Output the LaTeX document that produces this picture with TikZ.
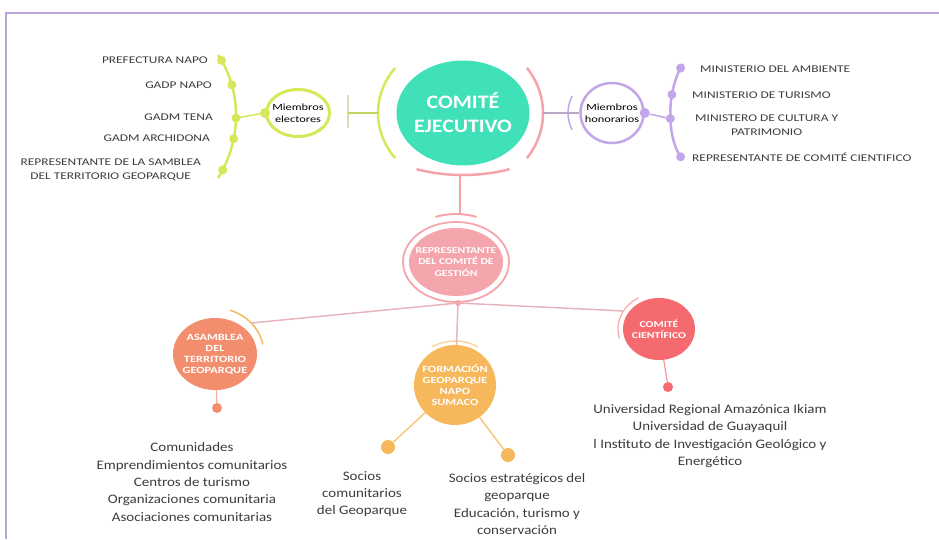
\documentclass[tikz,border=0pt]{standalone}
\usepackage{fontspec}
\setmainfont{Carlito}[FakeStretch=1.15]
\newfontfamily\widefont{Carlito}[FakeStretch=1.3]
\usetikzlibrary{shapes.geometric}
\definecolor{teal1}{HTML}{40E0B8}
\definecolor{lime}{HTML}{D6E85A}
\definecolor{tickc}{HTML}{D9DDB0}
\definecolor{pinkarc}{HTML}{F4A3AB}
\definecolor{purp}{HTML}{C3A6EA}
\definecolor{purpline}{HTML}{B9A9C9}
\definecolor{reppink}{HTML}{F5A5AC}
\definecolor{orng}{HTML}{F28D6E}
\definecolor{gold}{HTML}{F6B85A}
\definecolor{redc}{HTML}{F46A6E}
\definecolor{framec}{HTML}{B9A3D9}
\definecolor{txt}{HTML}{3C3C3C}
\definecolor{lnk}{HTML}{E8B4BC}
\begin{document}
\begin{tikzpicture}[x=1pt,y=-1pt,
  lbl/.style={font=\widefont\fontsize{10.3}{13.5}\selectfont, text=txt, inner sep=0pt, align=center},
  body/.style={font=\fontsize{13}{17.3}\selectfont, text=txt, align=center, inner sep=0pt},
  bubble/.style={ellipse, inner sep=0pt},
  intext/.style={text=white, font=\widefont\bfseries\fontsize{9.5}{11}\selectfont, align=center, inner sep=0pt},
  memb/.style={font=\widefont\fontsize{9.5}{12}\selectfont, align=center, inner sep=0pt},
  dotc/.style={circle, inner sep=0pt, minimum size=#1},
  dotc/.default=9pt
]
\useasboundingbox (0,0) rectangle (939,539);
% frame
\draw[framec, line width=1.2pt] (6,539) -- (6,13) -- (939,13);

% central node
\node[bubble, fill=teal1, minimum width=133pt, minimum height=105pt] (ce) at (463,113) {};
\node[text=white, font=\bfseries\fontsize{19}{24}\selectfont, align=center] (cetxt) at (ce) {COMITÉ\\EJECUTIVO};
\draw[lime, line width=2.5pt] (ce.center) ++(143:85pt and 75pt) arc[start angle=143, end angle=217, x radius=85pt, y radius=75pt];
\draw[pinkarc, line width=2.5pt] (ce.center) ++(-37:80pt and 75pt) arc[start angle=-37, end angle=37, x radius=80pt, y radius=75pt];
\draw[pinkarc, line width=2.5pt] (ce.center) ++(245:110pt and 62pt) arc[start angle=245, end angle=295, x radius=110pt, y radius=62pt];
\coordinate (cl) at (378,113);
\coordinate (cr) at (543,113);
\coordinate (cb) at (460,175);

% Miembros electores
\node[bubble, draw=lime, line width=3pt, fill=white, minimum width=63pt, minimum height=47pt] (elec) at (298,113) {};
\node[memb] (electxt) at (elec) {Miembros\\electores};
\node[dotc=10pt, fill=lime] (delec) at (elec.west) {};
\coordinate (tk) at (348,113);
\draw[tickc, line width=1.2pt] (348,95) -- (348,128);
\draw[lime!80!gray, line width=1.2pt] (tk) -- (cl);

% left bracket
\draw[lime, line width=2.5pt] (218,55) .. controls (242,90) and (242,140) .. (218,178)
  node[pos=0.05, dotc, fill=lime] (l1) {}
  node[pos=0.26, dotc, fill=lime] (l2) {}
  node[pos=0.52, coordinate] (lb) {}
  node[pos=0.52, dotc, fill=lime] (l3) {}
  node[pos=0.68, dotc, fill=lime] (l4) {}
  node[pos=0.93, dotc, fill=lime] (l5) {};
\draw[lime, line width=1.5pt] (lb) -- (delec);
\node[lbl, anchor=east] (t1) at (208,60) {PREFECTURA NAPO};
\node[lbl, anchor=east] (t2) at (212,85) {GADP NAPO};
\node[lbl, anchor=east] (t3) at (213,117) {GADM TENA};
\node[lbl, anchor=east] (t4) at (210,138) {GADM ARCHIDONA};
\node[lbl, anchor=east] (t5) at (201,170) {REPRESENTANTE DE LA SAMBLEA\\DEL TERRITORIO GEOPARQUE};

% Miembros honorarios
\node[bubble, draw=purp, line width=2.5pt, fill=white, minimum width=63pt, minimum height=60pt] (hon) at (612,113) {};
\node[memb] (hontxt) at (hon) {Miembros\\honorarios};
\draw[purp, line width=1.5pt] (hon.center) ++(155:44pt and 40pt) arc[start angle=155, end angle=205, x radius=44pt, y radius=40pt];
\draw[purpline, line width=1.2pt] (cr) -- (hon);
\node[dotc=10pt, fill=purp] (dhon) at (hon.east) {};
\draw[purp, line width=2.5pt] (683,64) .. controls (666,90) and (666,140) .. (683,160)
  node[pos=0.05, dotc, fill=purp] (r1) {}
  node[pos=0.32, dotc, fill=purp] (r2) {}
  node[pos=0.54, coordinate] (rb) {}
  node[pos=0.54, dotc, fill=purp] (r3) {}
  node[pos=0.95, dotc, fill=purp] (r4) {};
\draw[purp, line width=1.5pt] (dhon) -- (rb);
\node[lbl, anchor=west] (u1) at (700,69) {MINISTERIO DEL AMBIENTE};
\node[lbl, anchor=west] (u2) at (692,95) {MINISTERIO DE TURISMO};
\node[lbl, anchor=north west] (u3) at (695,115) {MINISTERO DE CULTURA Y\\PATRIMONIO};
\node[lbl, anchor=west] (u4) at (692,157) {REPRESENTANTE DE COMITÉ CIENTIFICO};

% Representante del comite de gestion
\node[bubble, fill=reppink, minimum width=94pt, minimum height=68pt] (rep) at (456,262) {};
\draw[reppink, line width=1.8pt] (rep.center) ellipse[x radius=53pt, y radius=40pt];
\node[intext, font=\widefont\bfseries\fontsize{9}{11.5}\selectfont] (reptxt) at (rep) {REPRESENTANTE\\DEL COMITÉ DE\\GESTIÓN};
\draw[pinkarc, line width=2pt] (rep.center) ++(70:60pt and 48pt) arc[start angle=70, end angle=110, x radius=60pt, y radius=48pt];
\coordinate (rt) at (460,214);
\draw[pinkarc, line width=1.5pt] (cb) -- (rt);
\node[dotc=6pt, fill=reppink] (drep) at (458,303) {};

% Asamblea
\node[bubble, fill=orng, minimum width=84pt, minimum height=72pt] (asa) at (215,354) {};
\node[intext] (asatxt) at (asa) {ASAMBLEA\\DEL\\TERRITORIO\\GEOPARQUE};
\draw[gold, line width=1.5pt] (asa.center) ++(12:49pt and 46pt) arc[start angle=12, end angle=72, x radius=49pt, y radius=46pt];
\coordinate (asaa) at (251,323);
\node[dotc=10pt, fill=orng] (dasa) at (217,408) {};
\draw[orng!70, line width=1.2pt] (asa) -- (dasa);

% Formacion
\node[bubble, fill=gold, minimum width=82pt, minimum height=80pt] (for) at (455,385) {};
\node[intext] (fortxt) at (for) {FORMACIÓN\\GEOPARQUE\\NAPO\\SUMACO};
\draw[gold!60, line width=1.5pt] (for.center) ++(60:46pt and 44pt) arc[start angle=60, end angle=120, x radius=46pt, y radius=44pt];
\node[dotc=14pt, fill=gold] (dfl) at (388,447) {};
\node[dotc=14pt, fill=gold] (dfr) at (508,455) {};
\draw[gold!80, line width=1.5pt] (for) -- (dfl);
\draw[gold!80, line width=1.5pt] (for) -- (dfr);

% Comite cientifico
\node[bubble, fill=redc, minimum width=72pt, minimum height=62pt] (cie) at (659,329) {};
\node[intext, font=\widefont\bfseries\fontsize{9}{11}\selectfont] (cietxt) at (cie) {COMITÉ\\CIENTÍFICO};
\draw[redc!60, line width=1.2pt] (cie.center) ++(120:41pt and 36pt) arc[start angle=120, end angle=195, x radius=41pt, y radius=36pt];
\coordinate (ciea) at (624,311);
\node[dotc=10pt, fill=redc] (dcie) at (668,387) {};
\draw[redc!70, line width=1.2pt] (cie) -- (dcie);

% links from representante
\draw[lnk, line width=1.5pt] (drep) -- (asaa);
\draw[lnk, line width=1.5pt] (drep) -- (for);
\draw[lnk, line width=1.5pt] (drep) -- (ciea);

% bottom texts
\node[body] (b1) at (192,482) {Comunidades\\Emprendimientos comunitarios\\Centros de turismo\\Organizaciones comunitaria\\Asociaciones comunitarias};
\node[body] (b2) at (362,494) {Socios\\comunitarios\\del Geoparque};
\node[body] (b3) at (517,504) {Socios estratégicos del\\geoparque\\Educación, turismo y\\conservación};
\node[body] (b4) at (710,436) {Universidad Regional Amazónica Ikiam\\Universidad de Guayaquil\\l Instituto de Investigación Geológico y\\Energético};
\end{tikzpicture}
\end{document}
